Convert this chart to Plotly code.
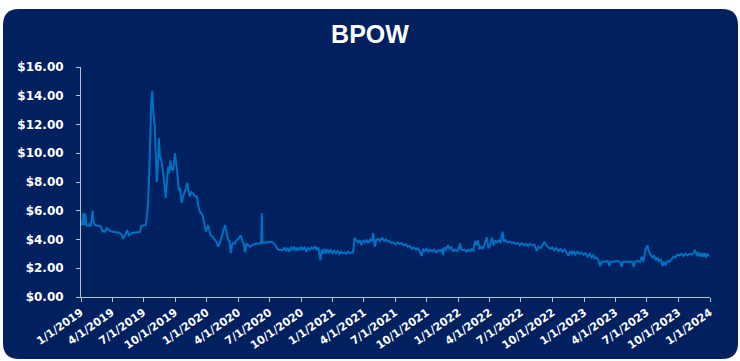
import plotly.graph_objects as go

title_text = "BPOW"

prices_2019 = [
    ("2019-01-01", 5.0), ("2019-01-04", 5.05), ("2019-01-08", 5.85), ("2019-01-10", 5.0),
    ("2019-01-14", 5.8), ("2019-01-16", 5.0), ("2019-01-21", 4.95), ("2019-01-25", 5.1),
    ("2019-01-29", 4.9), ("2019-02-04", 6.0), ("2019-02-06", 5.2), ("2019-02-11", 5.0),
    ("2019-02-19", 4.95), ("2019-02-28", 4.9), ("2019-03-04", 4.55), ("2019-03-08", 4.6),
    ("2019-03-12", 4.55), ("2019-03-17", 4.8), ("2019-03-23", 4.65), ("2019-04-01", 4.55),
    ("2019-04-13", 4.5), ("2019-04-24", 4.45), ("2019-05-01", 4.3), ("2019-05-03", 4.05),
    ("2019-05-09", 4.3), ("2019-05-15", 4.65), ("2019-05-20", 4.3), ("2019-05-29", 4.45),
    ("2019-06-10", 4.5), ("2019-06-21", 4.5), ("2019-06-25", 4.95), ("2019-07-02", 5.0),
    ("2019-07-08", 5.0), ("2019-07-11", 5.5), ("2019-07-14", 6.3), ("2019-07-18", 8.5),
    ("2019-07-21", 11.5), ("2019-07-24", 13.6), ("2019-07-27", 14.35), ("2019-07-30", 12.8),
    ("2019-08-03", 11.9), ("2019-08-06", 9.5), ("2019-08-09", 8.0), ("2019-08-12", 9.0),
    ("2019-08-15", 11.05), ("2019-08-18", 9.8), ("2019-08-22", 9.5), ("2019-08-27", 8.8),
    ("2019-08-31", 8.0), ("2019-09-04", 6.9), ("2019-09-08", 8.2), ("2019-09-11", 9.05),
    ("2019-09-14", 8.6), ("2019-09-17", 9.5), ("2019-09-21", 8.9), ("2019-09-25", 8.8),
    ("2019-10-01", 10.0), ("2019-10-05", 8.8), ("2019-10-08", 8.5), ("2019-10-12", 7.45),
    ("2019-10-16", 7.5), ("2019-10-20", 6.55), ("2019-10-24", 7.0), ("2019-10-27", 7.2),
    ("2019-11-01", 7.5), ("2019-11-05", 7.95), ("2019-11-09", 7.4), ("2019-11-13", 7.0),
    ("2019-11-17", 7.3), ("2019-11-22", 7.2), ("2019-11-28", 7.0), ("2019-12-03", 7.0),
    ("2019-12-08", 6.3), ("2019-12-12", 5.95), ("2019-12-17", 5.8), ("2019-12-21", 5.6),
    ("2019-12-26", 5.0), ("2019-12-30", 4.55),
]

prices_2020 = [
    ("2020-01-05", 5.0), ("2020-01-12", 4.3), ("2020-01-18", 4.2), ("2020-01-25", 3.95),
    ("2020-01-30", 3.8), ("2020-02-03", 3.5), ("2020-02-10", 3.9), ("2020-02-17", 4.5),
    ("2020-02-23", 5.0), ("2020-02-27", 4.6), ("2020-03-03", 3.95), ("2020-03-07", 3.9),
    ("2020-03-11", 3.05), ("2020-03-14", 3.6), ("2020-03-17", 3.75), ("2020-03-22", 3.7),
    ("2020-03-28", 3.95), ("2020-04-04", 4.1), ("2020-04-09", 4.3), ("2020-04-14", 3.85),
    ("2020-04-18", 3.7), ("2020-04-21", 3.1), ("2020-04-26", 3.75), ("2020-05-01", 3.6),
    ("2020-05-06", 3.5), ("2020-05-14", 3.65), ("2020-05-25", 3.7), ("2020-06-07", 3.75),
    ("2020-06-09", 5.85), ("2020-06-11", 3.8), ("2020-06-22", 3.8), ("2020-07-03", 3.85),
    ("2020-07-10", 3.8), ("2020-07-17", 3.65), ("2020-07-26", 3.3), ("2020-08-09", 3.25),
    ("2020-08-14", 3.45), ("2020-08-18", 3.2), ("2020-08-23", 3.4), ("2020-08-28", 3.15),
    ("2020-09-02", 3.45), ("2020-09-07", 3.3), ("2020-09-11", 3.5), ("2020-09-16", 3.2),
    ("2020-09-21", 3.45), ("2020-09-26", 3.25), ("2020-10-01", 3.5), ("2020-10-06", 3.3),
    ("2020-10-11", 3.45), ("2020-10-16", 3.15), ("2020-10-21", 3.4), ("2020-10-26", 3.3),
    ("2020-10-31", 3.45), ("2020-11-05", 3.35), ("2020-11-10", 3.5), ("2020-11-15", 3.3),
    ("2020-11-20", 3.45), ("2020-11-26", 2.55), ("2020-11-30", 3.3), ("2020-12-04", 3.0),
    ("2020-12-08", 3.35), ("2020-12-12", 3.05), ("2020-12-16", 3.3), ("2020-12-21", 3.1),
    ("2020-12-26", 3.3), ("2020-12-31", 3.0),
]

prices_2021 = [
    ("2021-01-05", 3.25), ("2021-01-10", 3.05), ("2021-01-15", 3.2), ("2021-01-20", 3.0),
    ("2021-01-25", 3.15), ("2021-01-30", 3.05), ("2021-02-04", 3.1), ("2021-02-09", 3.0),
    ("2021-02-14", 3.15), ("2021-02-19", 3.05), ("2021-02-24", 3.1), ("2021-03-01", 3.1),
    ("2021-03-05", 4.1), ("2021-03-10", 3.9), ("2021-03-15", 3.8), ("2021-03-20", 3.95),
    ("2021-03-25", 3.6), ("2021-03-30", 3.9), ("2021-04-04", 3.8), ("2021-04-09", 3.95),
    ("2021-04-14", 3.75), ("2021-04-19", 4.0), ("2021-04-24", 3.85), ("2021-04-28", 4.45),
    ("2021-05-03", 3.5), ("2021-05-07", 3.95), ("2021-05-12", 4.05), ("2021-05-18", 3.9),
    ("2021-05-24", 4.1), ("2021-05-30", 3.9), ("2021-06-04", 4.0), ("2021-06-09", 3.85),
    ("2021-06-14", 3.9), ("2021-06-20", 3.75), ("2021-06-26", 3.8), ("2021-07-02", 3.65),
    ("2021-07-08", 3.8), ("2021-07-14", 3.7), ("2021-07-20", 3.75), ("2021-07-26", 3.6),
    ("2021-08-01", 3.65), ("2021-08-07", 3.5), ("2021-08-13", 3.55), ("2021-08-19", 3.35),
    ("2021-08-24", 3.45), ("2021-08-30", 3.3), ("2021-09-04", 3.4), ("2021-09-10", 3.2),
    ("2021-09-16", 2.85), ("2021-09-20", 3.35), ("2021-09-25", 3.2), ("2021-09-30", 3.35),
    ("2021-10-05", 3.15), ("2021-10-10", 3.3), ("2021-10-16", 3.2), ("2021-10-22", 3.3),
    ("2021-10-28", 3.1), ("2021-11-03", 3.25), ("2021-11-09", 3.2), ("2021-11-14", 3.3),
    ("2021-11-17", 2.9), ("2021-11-21", 3.45), ("2021-11-26", 3.3), ("2021-12-01", 3.6),
    ("2021-12-06", 3.35), ("2021-12-11", 3.5), ("2021-12-16", 3.15), ("2021-12-21", 3.3),
    ("2021-12-27", 3.2),
]

prices_2022 = [
    ("2022-01-01", 3.3), ("2022-01-05", 3.75), ("2022-01-09", 3.3), ("2022-01-14", 3.25),
    ("2022-01-19", 3.3), ("2022-01-24", 3.15), ("2022-01-29", 3.3), ("2022-02-03", 3.2),
    ("2022-02-08", 3.35), ("2022-02-13", 3.25), ("2022-02-18", 3.9), ("2022-02-22", 3.6),
    ("2022-02-26", 3.95), ("2022-03-03", 3.3), ("2022-03-08", 3.5), ("2022-03-13", 3.35),
    ("2022-03-18", 3.7), ("2022-03-24", 4.15), ("2022-03-29", 3.4), ("2022-04-03", 3.6),
    ("2022-04-08", 4.15), ("2022-04-13", 3.6), ("2022-04-18", 3.9), ("2022-04-23", 3.8),
    ("2022-04-28", 3.95), ("2022-05-03", 3.75), ("2022-05-09", 4.55), ("2022-05-13", 3.85),
    ("2022-05-18", 3.95), ("2022-05-23", 3.8), ("2022-05-29", 3.85), ("2022-06-04", 3.75),
    ("2022-06-10", 3.8), ("2022-06-16", 3.7), ("2022-06-22", 3.75), ("2022-06-28", 3.6),
    ("2022-07-04", 3.75), ("2022-07-10", 3.6), ("2022-07-16", 3.7), ("2022-07-22", 3.55),
    ("2022-07-28", 3.7), ("2022-08-03", 3.6), ("2022-08-09", 3.65), ("2022-08-16", 3.2),
    ("2022-08-21", 3.5), ("2022-08-27", 3.4), ("2022-09-02", 3.6), ("2022-09-07", 3.85),
    ("2022-09-12", 3.6), ("2022-09-18", 3.45), ("2022-09-24", 3.35), ("2022-09-30", 3.45),
    ("2022-10-06", 3.25), ("2022-10-12", 3.4), ("2022-10-18", 3.2), ("2022-10-24", 3.35),
    ("2022-10-30", 3.15), ("2022-11-05", 3.3), ("2022-11-11", 3.1), ("2022-11-16", 2.85),
    ("2022-11-21", 3.2), ("2022-11-26", 3.0), ("2022-12-01", 3.2), ("2022-12-06", 2.95),
    ("2022-12-12", 3.15), ("2022-12-18", 3.0), ("2022-12-24", 3.1), ("2022-12-30", 2.95),
]

prices_2023 = [
    ("2023-01-05", 3.05), ("2023-01-11", 2.8), ("2023-01-17", 3.0), ("2023-01-22", 2.75),
    ("2023-01-27", 2.9), ("2023-02-01", 2.7), ("2023-02-06", 2.75), ("2023-02-11", 2.55),
    ("2023-02-16", 2.15), ("2023-02-20", 2.45), ("2023-03-01", 2.45), ("2023-03-10", 2.5),
    ("2023-03-15", 2.15), ("2023-03-18", 2.45), ("2023-03-28", 2.45), ("2023-04-06", 2.5),
    ("2023-04-14", 2.45), ("2023-04-20", 2.1), ("2023-04-23", 2.45), ("2023-05-03", 2.45),
    ("2023-05-13", 2.5), ("2023-05-20", 2.45), ("2023-05-25", 2.1), ("2023-05-28", 2.45),
    ("2023-06-05", 2.5), ("2023-06-12", 2.45), ("2023-06-17", 2.8), ("2023-06-22", 2.45),
    ("2023-06-27", 3.25), ("2023-07-03", 3.6), ("2023-07-07", 3.2), ("2023-07-12", 2.95),
    ("2023-07-17", 2.75), ("2023-07-22", 2.9), ("2023-07-27", 2.55), ("2023-08-01", 2.75),
    ("2023-08-06", 2.5), ("2023-08-11", 2.6), ("2023-08-16", 2.15), ("2023-08-20", 2.45),
    ("2023-08-25", 2.2), ("2023-08-30", 2.5), ("2023-09-05", 2.45), ("2023-09-11", 2.6),
    ("2023-09-16", 2.8), ("2023-09-22", 2.75), ("2023-09-28", 2.95), ("2023-10-04", 2.9),
    ("2023-10-10", 3.0), ("2023-10-16", 2.85), ("2023-10-22", 3.0), ("2023-10-28", 2.9),
    ("2023-11-03", 3.0), ("2023-11-09", 2.95), ("2023-11-14", 3.05), ("2023-11-18", 3.27),
    ("2023-11-22", 3.05), ("2023-11-26", 2.85), ("2023-11-30", 3.1), ("2023-12-04", 2.8),
    ("2023-12-08", 3.05), ("2023-12-12", 2.8), ("2023-12-16", 3.05), ("2023-12-20", 2.75),
    ("2023-12-24", 3.0), ("2023-12-29", 2.85),
]

tick_dates = ["2019-01-01", "2019-04-01", "2019-07-01", "2019-10-01",
              "2020-01-01", "2020-04-01", "2020-07-01", "2020-10-01",
              "2021-01-01", "2021-04-01", "2021-07-01", "2021-10-01",
              "2022-01-01", "2022-04-01", "2022-07-01", "2022-10-01",
              "2023-01-01", "2023-04-01", "2023-07-01", "2023-10-01",
              "2024-01-01"]
tick_labels = ["1/1/2019", "4/1/2019", "7/1/2019", "10/1/2019",
               "1/1/2020", "4/1/2020", "7/1/2020", "10/1/2020",
               "1/1/2021", "4/1/2021", "7/1/2021", "10/1/2021",
               "1/1/2022", "4/1/2022", "7/1/2022", "10/1/2022",
               "1/1/2023", "4/1/2023", "7/1/2023", "10/1/2023",
               "1/1/2024"]

all_points = prices_2019 + prices_2020 + prices_2021 + prices_2022 + prices_2023
dates = [d for d, _ in all_points]
prices = [p for _, p in all_points]

W, H = 740, 361
ML, MR, MT, MB = 81, 30, 67, 64
PW, PH = W - ML - MR, H - MT - MB

NAVY = "#002060"
LINE = "#0070C0"
AXIS = "#BFBFBF"


def px(x):
    return (x - ML) / PW


def py(y):
    return (H - MB - y) / PH


# rounded card
x0, x1, y0, y1, r = 3, 738, 9, 359, 16
path = (
    f"M {px(x0 + r)} {py(y0)} L {px(x1 - r)} {py(y0)} "
    f"Q {px(x1)} {py(y0)} {px(x1)} {py(y0 + r)} "
    f"L {px(x1)} {py(y1 - r)} Q {px(x1)} {py(y1)} {px(x1 - r)} {py(y1)} "
    f"L {px(x0 + r)} {py(y1)} Q {px(x0)} {py(y1)} {px(x0)} {py(y1 - r)} "
    f"L {px(x0)} {py(y0 + r)} Q {px(x0)} {py(y0)} {px(x0 + r)} {py(y0)} Z"
)

fig = go.Figure()
fig.add_trace(go.Scatter(
    x=dates, y=prices, mode="lines",
    line=dict(color=LINE, width=2),
    hoverinfo="skip", showlegend=False,
))

fig.update_layout(
    width=W, height=H,
    margin=dict(l=ML, r=MR, t=MT, b=MB, autoexpand=False),
    paper_bgcolor="white",
    plot_bgcolor="rgba(0,0,0,0)",
    shapes=[dict(type="path", path=path, xref="paper", yref="paper",
                 fillcolor=NAVY, line=dict(width=0), layer="below")],
    title=dict(text=f"<b>{title_text}</b>", x=0.5, xref="container", xanchor="center",
               y=1 - 34 / H, yref="container", yanchor="middle",
               font=dict(family="Liberation Sans, Arial", size=25, color="white")),
    xaxis=dict(
        type="date", range=["2019-01-01", "2024-01-01"], automargin=False,
        tickvals=tick_dates, ticktext=tick_labels, tickangle=-35,
        showgrid=False, zeroline=False,
        showline=True, linecolor=AXIS, linewidth=1,
        ticks="outside", ticklen=4, tickcolor=AXIS,
        tickfont=dict(family="DejaVu Sans", size=11, color="white", weight="bold"),
    ),
    yaxis=dict(
        range=[0, 16], dtick=2, tick0=0, tickformat="$.2f", automargin=False,
        showgrid=False, zeroline=False,
        showline=True, linecolor=AXIS, linewidth=1,
        ticks="outside", ticklen=4, tickcolor=AXIS, ticklabelstandoff=10,
        tickfont=dict(family="DejaVu Sans", size=12, color="white", weight="bold"),
    ),
)

fig.write_html("out.html")
